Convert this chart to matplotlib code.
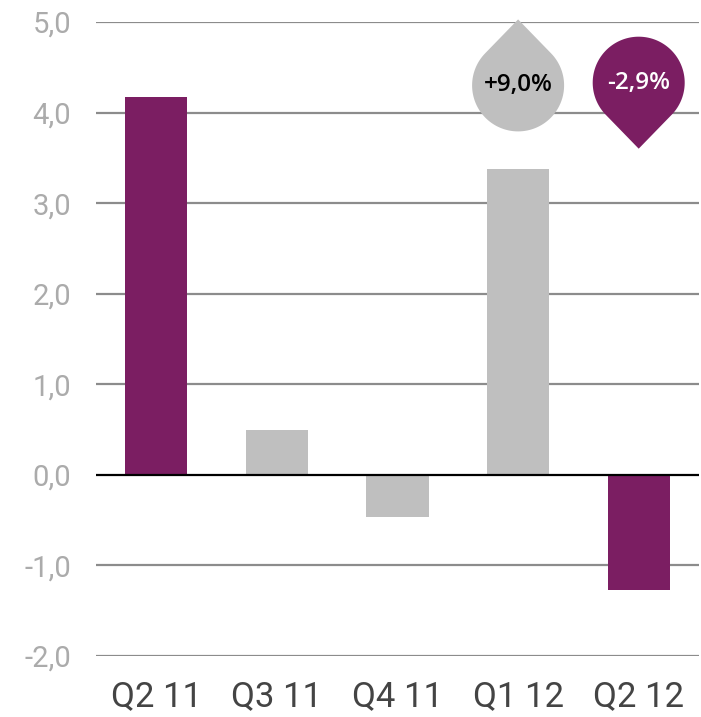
import numpy as np
import matplotlib
matplotlib.use("Agg")
import matplotlib.pyplot as plt
from matplotlib.path import Path
from matplotlib.patches import PathPatch
from matplotlib.transforms import Affine2D, ScaledTranslation

quarters = ["Q2 11", "Q3 11", "Q4 11", "Q1 12", "Q2 12"]
values = [4.17, 0.50, -0.47, 3.38, -1.27]
highlight = [True, False, False, False, True]

# change badges above the last two quarters
badge_idx = [3, 4]
badge_pct = [9.0, -2.9]
badge_y = [4.30, 4.33]

PURPLE = "#7B1E62"
GREY = "#BFBFBF"

fig = plt.figure(figsize=(7.01, 7.17), dpi=100)
ax = fig.add_axes([96 / 701, 61 / 717, 603 / 701, 634 / 717])

x = np.arange(len(quarters))
colors = [PURPLE if h else GREY for h in highlight]
ax.bar(x, values, width=0.515, color=colors, zorder=2)

ax.set_xlim(-0.5, len(quarters) - 0.5)
ax.set_ylim(-2.0, 5.0)
yt = np.arange(-2, 6)
ax.set_yticks(yt)
ax.set_yticklabels([f"{v:.1f}".replace(".", ",") for v in yt],
                   fontsize=21, color="#ABABAB", family=["Roboto", "DejaVu Sans"])
ax.set_xticks(x)
ax.set_xticklabels(quarters, fontsize=25, color="#444444",
                   family=["Roboto", "DejaVu Sans"])
ax.tick_params(axis="y", length=0, pad=18)
ax.tick_params(axis="x", length=0, pad=17)

for v in yt:
    if v == 0:
        continue
    ax.axhline(v, color="#8C8C8C", lw=1.6, zorder=1)
ax.axhline(0, color="black", lw=1.6, zorder=3)

for s in ax.spines.values():
    s.set_visible(False)


def drop_path(r, d, up):
    # circle of radius r with a point at distance d from the centre
    phi = np.pi / 2 - np.arcsin(r / d)
    if up:
        start, end = np.pi / 2 + phi, np.pi / 2 - phi + 2 * np.pi
        tip = (0, d)
    else:
        start, end = -np.pi / 2 + phi, -np.pi / 2 - phi + 2 * np.pi
        tip = (0, -d)
    th = np.linspace(start, end, 120)
    verts = [tip] + list(zip(r * np.cos(th), r * np.sin(th))) + [tip]
    codes = [Path.MOVETO] + [Path.LINETO] * (len(verts) - 2) + [Path.CLOSEPOLY]
    return Path(verts, codes)


for i, pct, yc in zip(badge_idx, badge_pct, badge_y):
    up = pct > 0
    path = drop_path(46, 66, up)
    tr = Affine2D() + ScaledTranslation(x[i], yc, ax.transData)
    fill = GREY if up else PURPLE
    ax.add_patch(PathPatch(path, transform=tr, facecolor=fill,
                           edgecolor="none", zorder=4, clip_on=False))
    label = f"{pct:+.1f}%".replace(".", ",")
    ax.text(x[i], yc, label, ha="center", va="center", fontsize=17.5,
            fontweight="semibold", color="black" if up else "white",
            family=["Open Sans", "DejaVu Sans"], zorder=5)

fig.savefig("out.png", dpi=100)
